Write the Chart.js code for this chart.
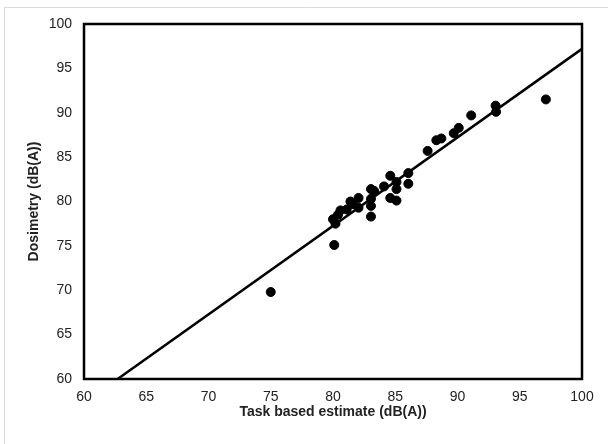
<!DOCTYPE html>
<html>
<head>
<meta charset="utf-8">
<script src="https://cdn.jsdelivr.net/npm/chart.js@4"></script>
<style>
  html, body { margin: 0; padding: 0; background: #fff; }
  #wrap { width: 608px; height: 444px; position: relative; }
</style>
</head>
<body>
<div id="wrap"><canvas id="grafico" width="608" height="444"></canvas></div>
<script>
// valores (task based estimate x dosimetry)
var tarefa = [75.0, 80.1, 80.2, 80.0, 80.4, 80.6, 81.1, 81.6, 81.4, 82.05, 82.05,
  83.05, 83.05, 83.05, 83.3, 83.05, 84.1, 84.6, 84.6, 85.1, 85.1, 85.1,
  86.05, 86.05, 87.6, 88.3, 88.7, 89.7, 90.1, 91.1, 93.1, 93.06, 97.1];
var dosimetria = [69.8, 75.1, 77.5, 78.0, 78.5, 79.0, 79.1, 79.7, 80.0, 79.3, 80.4,
  78.3, 79.5, 80.3, 81.2, 81.4, 81.7, 80.4, 82.9, 80.1, 81.4, 82.2,
  82.0, 83.2, 85.7, 86.9, 87.1, 87.7, 88.3, 89.7, 90.1, 90.8, 91.5];
// linha de tendencia
var linhaX = [62.7, 100];
var linhaY = [60, 97.2];
var eixoMin = 60, eixoMax = 100, passo = 5;

var pontos = [];
for (var i = 0; i < tarefa.length; i++) {
  pontos.push({ x: tarefa[i], y: dosimetria[i] });
}
var linha = [];
for (var j = 0; j < linhaX.length; j++) {
  linha.push({ x: linhaX[j], y: linhaY[j] });
}

// moldura cinza (so topo e esquerda aparecem) + borda preta da area
var moldura = {
  id: 'moldura',
  beforeDraw: function (chart) {
    var c = chart.ctx;
    c.save();
    c.strokeStyle = '#d9d9d9';
    c.lineWidth = 1;
    c.beginPath();
    c.moveTo(4.5, 444);
    c.lineTo(4.5, 7.5);
    c.lineTo(608, 7.5);
    c.stroke();
    c.restore();
  },
  afterDatasetsDraw: function (chart) {
    var a = chart.chartArea;
    var c = chart.ctx;
    c.save();
    c.strokeStyle = '#000';
    c.lineWidth = 2.5;
    c.strokeRect(a.left, a.top, a.right - a.left, a.bottom - a.top);
    c.restore();
  }
};

var ctx = document.getElementById('grafico').getContext('2d');
var meuGrafico = new Chart(ctx, {
  type: 'scatter',
  data: {
    datasets: [{
      label: 'Medidas',
      data: pontos,
      backgroundColor: '#000',
      borderColor: '#000',
      pointRadius: 4.5,
      pointHoverRadius: 4.5
    }, {
      type: 'line',
      label: 'Tendencia',
      data: linha,
      borderColor: '#000',
      borderWidth: 2.5,
      pointRadius: 0,
      fill: false
    }]
  },
  options: {
    responsive: false,
    animation: false,
    layout: { padding: { left: 22, top: 24, right: 26, bottom: 20 } },
    plugins: {
      legend: { display: false },
      tooltip: { enabled: false }
    },
    scales: {
      x: {
        type: 'linear',
        min: eixoMin,
        max: eixoMax,
        grid: { display: false, drawTicks: false },
        border: { display: false },
        ticks: {
          stepSize: passo,
          color: '#222',
          padding: 10,
          font: { family: 'Liberation Sans, Arial', size: 14 }
        },
        title: {
          display: true,
          text: 'Task based estimate (dB(A))',
          color: '#222',
          padding: { top: 4, bottom: 3 },
          font: { family: 'Liberation Sans, Arial', size: 14, weight: 'bold' }
        },
        afterFit: function (s) { s.height = 45; }
      },
      y: {
        type: 'linear',
        min: eixoMin,
        max: eixoMax,
        grid: { display: false, drawTicks: false },
        border: { display: false },
        ticks: {
          stepSize: passo,
          color: '#222',
          padding: 12,
          font: { family: 'Liberation Sans, Arial', size: 14 }
        },
        title: {
          display: true,
          text: 'Dosimetry (dB(A))',
          color: '#222',
          font: { family: 'Liberation Sans, Arial', size: 14, weight: 'bold' }
        },
        afterFit: function (s) { s.width = 62; }
      }
    }
  },
  plugins: [moldura]
});
</script>
</body>
</html>
